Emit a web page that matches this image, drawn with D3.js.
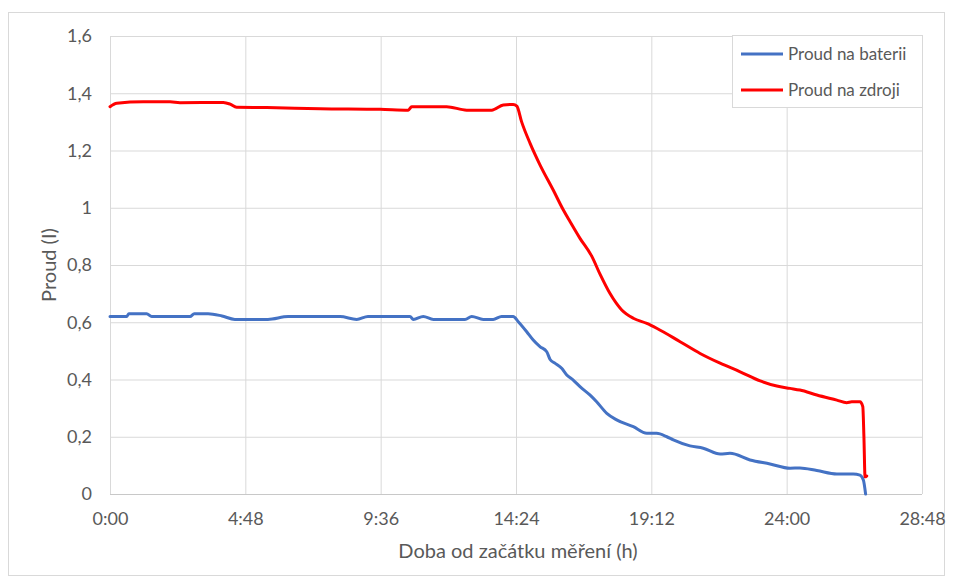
<!DOCTYPE html>
<html>
<head>
<meta charset="utf-8">
<script src="https://cdn.jsdelivr.net/npm/d3@7"></script>
<style>
  html, body { margin: 0; padding: 0; background: #fff; }
  svg { display: block; font-family: Lato, "Open Sans", sans-serif; }
</style>
</head>
<body>
<svg id="chart" width="953" height="581"></svg>
<script>
// Measured currents (A) against elapsed time (hours)
const batteryHours = [0, 0.59, 0.67, 1.30, 1.48, 2.84, 2.99, 3.48, 3.97, 4.43, 5.60, 6.32, 8.16, 8.75, 9.15,
  10.64, 10.76, 11.11, 11.47, 12.59, 12.83, 13.24, 13.59, 13.89, 14.30, 14.48, 14.78, 15.01, 15.25,
  15.49, 15.61, 15.78, 16.02, 16.20, 16.43, 16.67, 17.02, 17.26, 17.62, 17.97, 18.56, 19.04, 19.39,
  19.75, 19.98, 20.57, 21.04, 21.64, 21.99, 22.70, 23.41, 24.12, 24.47, 25.07, 25.78, 26.36, 26.60,
  26.72, 26.80];
const batteryAmps = [0.62, 0.62, 0.63, 0.63, 0.62, 0.62, 0.63, 0.63, 0.622, 0.61, 0.61, 0.62, 0.62, 0.61, 0.62,
  0.62, 0.61, 0.62, 0.61, 0.61, 0.62, 0.61, 0.61, 0.62, 0.62, 0.602, 0.567, 0.538, 0.515,
  0.497, 0.470, 0.457, 0.439, 0.416, 0.398, 0.375, 0.346, 0.322, 0.282, 0.259, 0.235, 0.212, 0.212,
  0.200, 0.189, 0.168, 0.160, 0.140, 0.142, 0.119, 0.105, 0.090, 0.091, 0.082, 0.070, 0.070, 0.066,
  0.049, 0.0];

const sourceHours = [0, 0.24, 1.18, 2.13, 2.48, 4.02, 4.26, 4.49, 5.56, 7.45, 9.58, 10.58, 10.70, 11.94,
  12.65, 13.54, 13.95, 14.30, 14.43, 14.60, 14.90, 15.25, 15.72, 16.08, 16.32, 16.67, 17.09,
  17.38, 17.73, 18.15, 18.56, 19.04, 19.39, 20.22, 20.93, 21.64, 22.35, 23.06, 23.65, 24.12, 24.47,
  25.07, 25.78, 26.13, 26.31, 26.60, 26.70, 26.74, 26.78, 26.84];
const sourceAmps = [1.353, 1.365, 1.370, 1.370, 1.367, 1.368, 1.362, 1.351, 1.350, 1.346, 1.344, 1.341, 1.353, 1.353,
  1.341, 1.341, 1.359, 1.361, 1.355, 1.300, 1.225, 1.150, 1.062, 0.992, 0.951, 0.893, 0.830,
  0.768, 0.701, 0.643, 0.614, 0.596, 0.579, 0.532, 0.491, 0.457, 0.427, 0.395, 0.377, 0.369, 0.363,
  0.346, 0.328, 0.319, 0.322, 0.322, 0.305, 0.20, 0.06, 0.063];

const seriesNames = ["Proud na baterii", "Proud na zdroji"];
const seriesColors = ["#4472C4", "#FF0000"];
const xTicks = [0, 4.8, 9.6, 14.4, 19.2, 24, 28.8];
const yTicks = [0, 0.2, 0.4, 0.6, 0.8, 1.0, 1.2, 1.4, 1.6];
const xTitle = "Doba od začátku měření (h)";
const yTitle = "Proud (I)";

const series = [
  { name: seriesNames[0], color: seriesColors[0], pts: batteryHours.map((h, i) => [h, batteryAmps[i]]) },
  { name: seriesNames[1], color: seriesColors[1], pts: sourceHours.map((h, i) => [h, sourceAmps[i]]) }
];

const svg = d3.select("#chart");
const plot = { left: 110, right: 922, top: 36, bottom: 494 };
const textColor = "#595959";
const gridColor = "#d9d9d9";
const font = "Lato, 'Open Sans', sans-serif";

// chart frame
svg.append("rect").attr("x", 8.5).attr("y", 12.5).attr("width", 936).attr("height", 563)
  .attr("fill", "#fff").attr("stroke", gridColor).attr("stroke-width", 1);

const x = d3.scaleLinear().domain([0, 28.8]).range([plot.left, plot.right]);
const y = d3.scaleLinear().domain([0, 1.6]).range([plot.bottom, plot.top]);

const fmtTime = h => {
  const totalMin = Math.round(h * 60);
  return Math.floor(totalMin / 60) + ":" + String(totalMin % 60).padStart(2, "0");
};
const fmtNum = v => d3.format("~g")(+v.toFixed(1)).replace(".", ",");

// vertical gridlines + x labels
const xAxis = d3.axisBottom(x).tickValues(xTicks).tickFormat(fmtTime)
  .tickSize(-(plot.bottom - plot.top)).tickPadding(18);
const gx = svg.append("g").attr("transform", `translate(0,${plot.bottom})`).call(xAxis);
gx.select(".domain").remove();
gx.selectAll(".tick line").attr("stroke", gridColor).attr("stroke-width", 1);
gx.selectAll(".tick text").attr("fill", textColor).attr("font-size", 18).attr("font-family", font);

// horizontal gridlines + y labels
const yAxis = d3.axisLeft(y).tickValues(yTicks).tickFormat(fmtNum)
  .tickSize(-(plot.right - plot.left)).tickPadding(18);
const gy = svg.append("g").attr("transform", `translate(${plot.left},0)`).call(yAxis);
gy.select(".domain").remove();
gy.selectAll(".tick line").attr("stroke", gridColor).attr("stroke-width", 1);
gy.selectAll(".tick text").attr("fill", textColor).attr("font-size", 18).attr("font-family", font);

// bottom axis line
svg.append("line").attr("x1", plot.left).attr("x2", plot.right)
  .attr("y1", plot.bottom + 0.5).attr("y2", plot.bottom + 0.5)
  .attr("stroke", "#c8c8c8").attr("stroke-width", 1);

// series lines
const line = d3.line().x(d => x(d[0])).y(d => y(d[1])).curve(d3.curveMonotoneX);
svg.append("g").selectAll("path").data(series).join("path")
  .attr("d", d => line(d.pts))
  .attr("fill", "none").attr("stroke", d => d.color)
  .attr("stroke-width", 3).attr("stroke-linejoin", "round").attr("stroke-linecap", "round");

// axis titles
svg.append("text").attr("x", (plot.left + plot.right) / 2 + 2).attr("y", 558)
  .attr("text-anchor", "middle").attr("fill", textColor).attr("font-size", 20).text(xTitle);
svg.append("text").attr("transform", `translate(56,${(plot.top + plot.bottom) / 2}) rotate(-90)`)
  .attr("text-anchor", "middle").attr("fill", textColor).attr("font-size", 20).text(yTitle);

// legend
const lg = svg.append("g");
lg.append("rect").attr("x", 732.5).attr("y", 35.5).attr("width", 190).attr("height", 72)
  .attr("fill", "#fff").attr("stroke", gridColor).attr("stroke-width", 1);
const items = lg.selectAll("g").data(series).join("g")
  .attr("transform", (d, i) => `translate(741,${54 + i * 36})`);
items.append("line").attr("x1", 0).attr("x2", 42).attr("y1", 0).attr("y2", 0)
  .attr("stroke", d => d.color).attr("stroke-width", 3);
items.append("text").attr("x", 47).attr("y", 0).attr("dy", "0.35em")
  .attr("fill", textColor).attr("font-size", 17).text(d => d.name);
</script>
</body>
</html>
